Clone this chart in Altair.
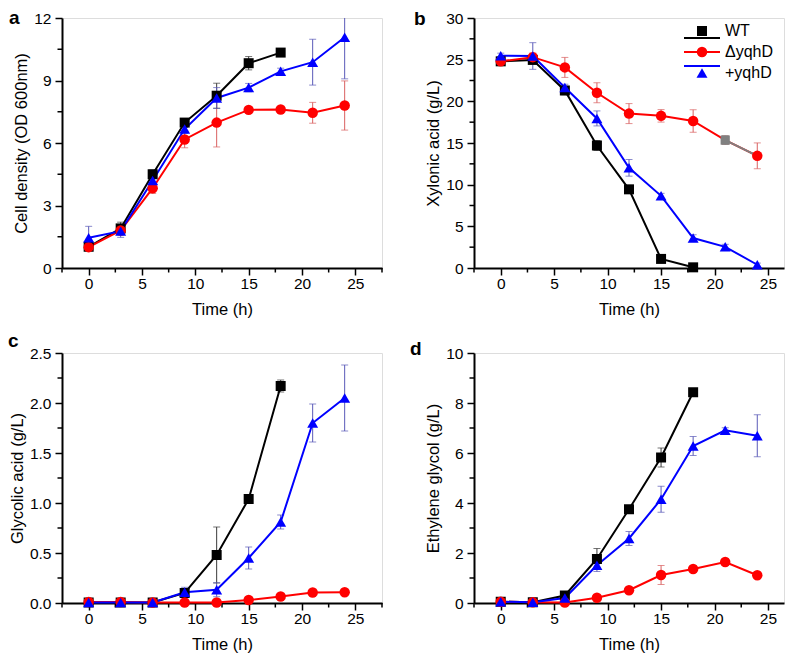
import altair as alt
import pandas as pd

FONT = "Liberation Sans"

TIME = [0, 3, 6, 9, 12, 15, 18, 21, 24]
SERIES = ["WT", "ΔyqhD", "+yqhD"]
COLORS = ["#000000", "#ff0000", "#0000ff"]
ERR_COLORS = ["#3a3a3a", "#d96060", "#5a5ab8"]
SHAPES = ["square", "circle", "triangle-up"]
SIZES = [100, 120, 150]

# Panel a: Cell density (OD 600nm)
WT_A = [1.02, 1.9, 4.5, 6.98, 8.27, 9.83, 10.34]
WT_A_ERR = [0.1, 0.3, 0.2, 0.15, 0.6, 0.32, 0.15]
DEL_A = [1.0, 1.8, 3.83, 6.17, 6.98, 7.59, 7.61, 7.45, 7.8]
DEL_A_ERR = [0.1, 0.2, 0.25, 0.4, 1.17, 0.1, 0.1, 0.5, 1.18]
PLUS_A = [1.45, 1.77, 4.2, 6.67, 8.16, 8.66, 9.44, 9.88, 11.08]
PLUS_A_ERR = [0.55, 0.3, 0.45, 0.2, 0.5, 0.2, 0.15, 1.1, 2.0]

# Panel b: Xylonic acid (g/L)
WT_B = [24.8, 24.97, 21.3, 14.7, 9.44, 1.09, 0.08]
WT_B_ERR = [0.3, 0.5, 0.5, 0.6, 0.3, 0.2, 0.1]
DEL_B = [24.8, 25.3, 24.07, 21.03, 18.53, 18.26, 17.64, 15.35, 13.46]
DEL_B_ERR = [0.3, 0.5, 1.2, 1.2, 1.2, 0.75, 1.35, 0.5, 1.55]
PLUS_B = [25.48, 25.44, 21.65, 17.95, 12.02, 8.66, 3.59, 2.54, 0.39]
PLUS_B_ERR = [0.3, 1.6, 0.4, 0.9, 1.0, 0.3, 0.4, 0.3, 0.2]
GREY_T = [21, 24]

# Panel c: Glycolic acid (g/L)
WT_C = [0.005, 0.005, 0.005, 0.1, 0.48, 1.04, 2.17]
WT_C_ERR = [0.0, 0.0, 0.0, 0.02, 0.28, 0.02, 0.06]
DEL_C = [0.01, 0.01, 0.005, 0.005, 0.005, 0.03, 0.065, 0.105, 0.107]
DEL_C_ERR = [0.0, 0.0, 0.0, 0.0, 0.0, 0.01, 0.01, 0.01, 0.01]
PLUS_C = [0.005, 0.005, 0.005, 0.107, 0.133, 0.45, 0.81, 1.8, 2.05]
PLUS_C_ERR = [0.0, 0.0, 0.0, 0.05, 0.07, 0.11, 0.07, 0.19, 0.33]

# Panel d: Ethylene glycol (g/L)
WT_D = [0.05, 0.03, 0.3, 1.76, 3.75, 5.82, 8.43]
WT_D_ERR = [0.0, 0.0, 0.05, 0.42, 0.1, 0.38, 0.05]
DEL_D = [0.05, 0.03, 0.02, 0.21, 0.51, 1.12, 1.36, 1.64, 1.11]
DEL_D_ERR = [0.0, 0.0, 0.0, 0.05, 0.05, 0.38, 0.05, 0.05, 0.05]
PLUS_D = [0.05, 0.03, 0.2, 1.51, 2.58, 4.15, 6.28, 6.91, 6.69]
PLUS_D_ERR = [0.0, 0.0, 0.05, 0.25, 0.28, 0.52, 0.38, 0.1, 0.84]

X_MAJOR = [0, 5, 10, 15, 20, 25]
X_MINOR = [-2.5, 2.5, 7.5, 12.5, 17.5, 22.5, 27.5]

color_scale = alt.Scale(domain=SERIES, range=COLORS)
err_scale = alt.Scale(domain=SERIES, range=ERR_COLORS)
shape_scale = alt.Scale(domain=SERIES, range=SHAPES)
size_scale = alt.Scale(domain=SERIES, range=SIZES)
H = 250


def panel_df(vals, errs):
    rows = []
    for s, v, e in zip(SERIES, vals, errs):
        for t, vv, ee in zip(TIME, v, e):
            rows.append(dict(series=s, time=t, value=vv, lo=vv - ee, hi=vv + ee))
    return pd.DataFrame(rows)


def axis_common():
    return dict(
        grid=False, domainColor="black", domainWidth=2, tickColor="black",
        tickWidth=1.5, tickSize=7, labelFontSize=15.5, titleFontSize=16.5,
        labelColor="black", titleColor="black", labelFont=FONT, titleFont=FONT,
        titleFontWeight="normal", labelOverlap=False, labelFlush=False,
    )


def make_panel(df, ytitle, ydom, ymajor, yminor, yfmt, xmax, width, letter, lx, ly,
               exclude=None, legend=False, grey=None):
    xscale = alt.Scale(domain=[-2.5, xmax], nice=False)
    yscale = alt.Scale(domain=ydom, nice=False, zero=False, clamp=True)
    x = alt.X("time:Q", scale=xscale,
              axis=alt.Axis(values=X_MAJOR, title="Time (h)", format="d",
                            labelPadding=1, titlePadding=10, **axis_common()))
    y_axis = alt.Axis(values=ymajor, title=ytitle, format=yfmt,
                      labelPadding=4, titlePadding=4, **axis_common())

    base = alt.Chart(df)
    err_rule = base.mark_rule(strokeWidth=1).encode(
        x=x, y=alt.Y("lo:Q", scale=yscale, axis=y_axis), y2="hi:Q",
        stroke=alt.Stroke("series:N", scale=err_scale, legend=None))
    caps = base.transform_fold(["lo", "hi"], as_=["bound", "bval"]).transform_filter(
        f"datum.bval <= {ydom[1]}").mark_tick(
        orient="horizontal", thickness=1, size=7).encode(
        x="time:Q", y=alt.Y("bval:Q", scale=yscale),
        fill=alt.Fill("series:N", scale=err_scale, legend=None))
    lines = base.mark_line(strokeWidth=2).encode(
        x="time:Q", y=alt.Y("value:Q", scale=yscale),
        color=alt.Color("series:N", scale=color_scale, legend=None),
        order="time:Q")
    pts_base = base
    if exclude is not None:
        pts_base = base.transform_filter(
            f"!(datum.series === '{exclude[0]}' && datum.time === {exclude[1]})")
    pts = pts_base.mark_point(filled=True, opacity=1).encode(
        x="time:Q", y=alt.Y("value:Q", scale=yscale),
        color=alt.Color("series:N", scale=color_scale, legend=None),
        shape=alt.Shape("series:N", scale=shape_scale, legend=None),
        size=alt.Size("series:N", scale=size_scale, legend=None))
    xminor = alt.Chart(pd.DataFrame({"time": [v for v in X_MINOR if v <= xmax]})).mark_rule(
        strokeWidth=1.5, color="black").encode(
        x=alt.X("time:Q", scale=xscale, title="Time (h)"),
        y=alt.value(H), y2=alt.value(H + 4.5))
    yminor = alt.Chart(pd.DataFrame({"value": yminor})).mark_rule(
        strokeWidth=1.5, color="black").encode(
        y=alt.Y("value:Q", scale=yscale, title=ytitle),
        x=alt.value(0), x2=alt.value(-4.5))
    layers = [xminor, yminor, err_rule, caps, lines]
    if grey is not None:
        gdf = df[(df.series == grey[0]) & (df.time.isin(grey[1]))]
        gbase = alt.Chart(gdf)
        layers.append(gbase.mark_line(strokeWidth=2, color="#808080").encode(
            x="time:Q", y=alt.Y("value:Q", scale=yscale)))
    layers.append(pts)
    if grey is not None:
        g1 = df[(df.series == grey[0]) & (df.time == grey[1][0])]
        g1b = alt.Chart(g1)
        layers.append(g1b.mark_rule(strokeWidth=1, color="#777777").encode(
            x="time:Q", y=alt.Y("lo:Q", scale=yscale), y2="hi:Q"))
        layers.append(g1b.transform_fold(["lo", "hi"], as_=["bound", "bval"]).mark_tick(
            orient="horizontal", thickness=1, size=7, color="#777777").encode(
            x="time:Q", y=alt.Y("bval:Q", scale=yscale)))
        layers.append(g1b.mark_point(filled=True, opacity=1, shape="square",
                                     size=85, color="#808080").encode(
            x="time:Q", y=alt.Y("value:Q", scale=yscale)))
    inner = alt.layer(*layers)

    lab = alt.Chart(pd.DataFrame({"label": [letter]})).mark_text(
        align="left", baseline="alphabetic", fontSize=19, fontWeight="bold",
        font=FONT, color="black").encode(
        text="label:N", x=alt.value(lx), y=alt.value(ly))

    outer = [inner, lab]
    if legend:
        leg_df = pd.DataFrame({"series": SERIES})
        lyenc = alt.Y("series:N", scale=alt.Scale(domain=SERIES, range=[13, 55], padding=0),
                      axis=None)
        leg_line = alt.Chart(leg_df).mark_rule(strokeWidth=2).encode(
            x=alt.value(210), x2=alt.value(246), y=lyenc,
            color=alt.Color("series:N", scale=color_scale, legend=None))
        leg_pt = alt.Chart(leg_df).mark_point(filled=True, opacity=1).encode(
            x=alt.value(228), y=lyenc,
            color=alt.Color("series:N", scale=color_scale, legend=None),
            shape=alt.Shape("series:N", scale=shape_scale, legend=None),
            size=alt.Size("series:N", scale=size_scale, legend=None))
        leg_txt = alt.Chart(leg_df).mark_text(
            align="left", baseline="middle", fontSize=16, font=FONT,
            color="black").encode(x=alt.value(251), y=lyenc, text="series:N")
        outer += [leg_line, leg_pt, leg_txt]
    return alt.layer(*outer).resolve_scale(y="independent").properties(
        width=width, height=H)


pa = make_panel(panel_df([WT_A, DEL_A, PLUS_A], [WT_A_ERR, DEL_A_ERR, PLUS_A_ERR]),
                "Cell density (OD 600nm)", [0, 12], [0, 3, 6, 9, 12],
                [1.5, 4.5, 7.5, 10.5], "d", 27.5, 320, "a", -53, 6)
pb = make_panel(panel_df([WT_B, DEL_B, PLUS_B], [WT_B_ERR, DEL_B_ERR, PLUS_B_ERR]),
                "Xylonic acid (g/L)", [0, 30], [0, 5, 10, 15, 20, 25, 30],
                [2.5, 7.5, 12.5, 17.5, 22.5, 27.5], "d", 26.5, 310, "b", -60, 7,
                exclude=("ΔyqhD", 21), legend=True, grey=("ΔyqhD", GREY_T))
pc = make_panel(panel_df([WT_C, DEL_C, PLUS_C], [WT_C_ERR, DEL_C_ERR, PLUS_C_ERR]),
                "Glycolic acid (g/L)", [0, 2.5], [0, 0.5, 1.0, 1.5, 2.0, 2.5],
                [0.25, 0.75, 1.25, 1.75, 2.25], ".1f", 27.5, 320, "c", -54, -6)
pd_ = make_panel(panel_df([WT_D, DEL_D, PLUS_D], [WT_D_ERR, DEL_D_ERR, PLUS_D_ERR]),
                 "Ethylene glycol (g/L)", [0, 10], [0, 2, 4, 6, 8, 10],
                 [1, 3, 5, 7, 9], "d", 26.5, 310, "d", -64, 2)

top = alt.hconcat(pa, pb, spacing=92, bounds="flush")
bottom = alt.hconcat(pc, pd_, spacing=92, bounds="flush")
chart = alt.vconcat(top, bottom, spacing=12).properties(
    padding={"left": -1, "top": 0, "right": 0, "bottom": 0}).configure_view(
    stroke=None).configure(font=FONT)

chart.save("out.html", embed_options={"renderer": "svg", "actions": False})
